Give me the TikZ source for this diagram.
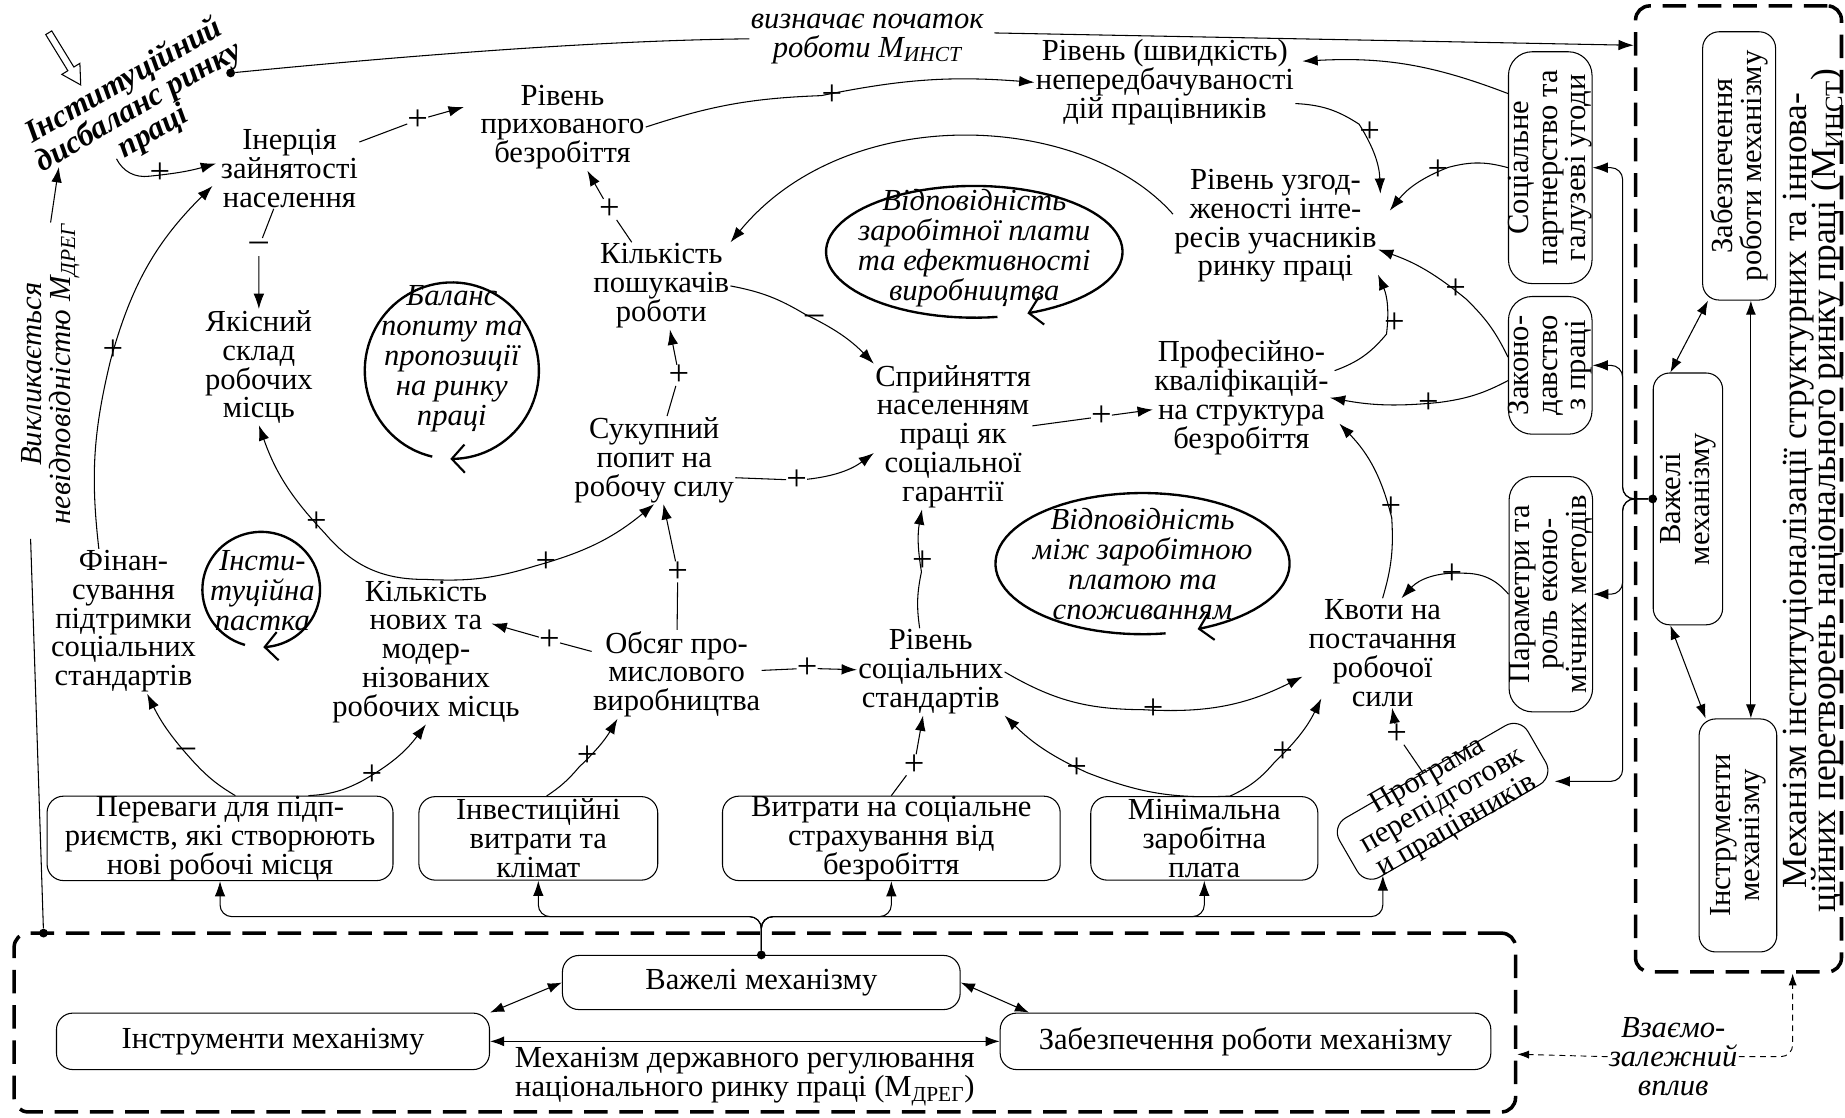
\documentclass[tikz,border=0pt]{standalone}
\usepackage{fontspec}
\setmainfont{Liberation Serif}
\usetikzlibrary{arrows.meta}
\newcommand\bodyfont{\fontsize{26pt}{24.5pt}\selectfont\lineskiplimit=-50pt\relax}
\newcommand\loopfont{\fontsize{26pt}{25.5pt}\selectfont\itshape\lineskiplimit=-50pt\relax}
\newcommand\headfont{\fontsize{27pt}{25pt}\selectfont\bfseries\itshape\lineskiplimit=-50pt\relax}
\newcommand\capfont{\fontsize{30pt}{25pt}\selectfont\lineskiplimit=-50pt\relax}
\newcommand\signfont{\fontsize{31pt}{31pt}\selectfont}
\begin{document}
\begin{tikzpicture}[x=1pt, y=-1pt,
  txt/.style={align=center, inner sep=1pt, font=\bodyfont},
  itxt/.style={align=center, inner sep=1pt, font=\bodyfont\itshape},
  ltxt/.style={align=center, inner sep=1pt, font=\loopfont},
  rbox/.style={draw, rounded corners=14pt, line width=0.9pt, inner sep=0pt},
  sbox/.style={draw, rounded corners=20pt, line width=0.9pt, inner sep=0pt},
  dframe/.style={draw, line width=3pt, dash pattern=on 20pt off 10pt, rounded corners=12pt, inner sep=0pt},
  conn/.style={line width=0.9pt, -{Latex[length=13pt,width=9pt]}},
  link/.style={line width=0.9pt},
  dbl/.style={line width=0.9pt, {Latex[length=12pt,width=8.5pt]}-{Latex[length=12pt,width=8.5pt]}},
  sgn/.style={font=\signfont, inner sep=0pt, minimum size=15pt},
  loopline/.style={line width=2pt, -{Straight Barb[length=11pt,width=24pt,line width=1.8pt]}},
  thindash/.style={line width=0.8pt, dash pattern=on 5pt off 4pt, -{Latex[length=10pt,width=7pt]}},
  bullet/.style={circle, fill, inner sep=0pt, minimum size=7.5pt}]

\fill[white] (0,0) rectangle (1568,950);
\useasboundingbox (0,0) rectangle (1568,950);

% ---------- dashed frames of the two mechanisms ----------
\node[dframe, minimum width=175pt, minimum height=821pt] (iFrame) at (1477.5,415.5) {};
\node[dframe, minimum width=1276pt, minimum height=152pt] (dFrame) at (650,869) {};

% ---------- state regulation mechanism (bottom) ----------
\node[txt, rbox, minimum width=338pt, minimum height=46pt] (dLev) at (647,835) {Важелі механізму};
\node[txt, rbox, minimum width=368pt, minimum height=48pt] (dTool) at (232,885) {Інструменти механізму};
\node[txt, rbox, minimum width=417pt, minimum height=48pt] (dSup) at (1058.5,885) {Забезпечення роботи механізму};
\node[txt] (dCap) at (633,915) {Механізм державного регулювання\\національного ринку праці (М\textsubscript{ДРЕГ})};
\draw[dbl] (dLev.west) -- (dTool.north east);
\draw[dbl] (dLev.east) -- ([shift={(25,0)}]dSup.north west);
\draw[dbl] (dTool.east) -- (dSup.west);

% ---------- institutionalisation mechanism (right) ----------
\node[rbox, minimum width=62pt, minimum height=228pt] (iSup) at (1478,141) {};
\node[txt, rotate=90] (iSupT) at (iSup.center) {Забезпечення\\роботи механізму};
\node[rbox, minimum width=59pt, minimum height=214pt] (iLev) at (1434.5,424) {};
\node[txt, rotate=90] (iLevT) at (iLev.center) {Важелі\\механізму};
\node[rbox, minimum width=66pt, minimum height=198pt] (iTool) at (1477,710) {};
\node[txt, rotate=90] (iToolT) at (iTool.center) {Інструменти\\механізму};
\node[align=center, inner sep=1pt, font=\capfont, rotate=90] (iCap) at (1541,417) {Механізм інституціоналізації структурних та іннова-\\ційних перетворень національного ринку праці (М\textsubscript{ИНСТ})};
\draw[dbl] ([shift={(15,0)}]iLev.north west) -- ([shift={(5,0)}]iSup.south west);
\draw[dbl] ([shift={(15,0)}]iLev.south west) -- ([shift={(6,0)}]iTool.north west);
\draw[dbl] ([shift={(10,0)}]iSup.south) -- ([shift={(11,0)}]iTool.north);

% ---------- levers of the right mechanism ----------
\node[sbox, minimum width=71pt, minimum height=197pt] (rSoc) at (1317.5,142.5) {};
\node[txt, rotate=90] (rSocT) at (rSoc.center) {Соціальне\\партнерство та\\галузеві угоди};
\node[sbox, minimum width=71pt, minimum height=117pt] (rLaw) at (1317.5,310.5) {};
\node[txt, rotate=90] (rLawT) at (rLaw.center) {Законо-\\давство\\з праці};
\node[sbox, minimum width=71pt, minimum height=200pt] (rPar) at (1318,505) {};
\node[txt, rotate=90] (rParT) at (rPar.center) {Параметри та\\роль еконо-\\мічних методів};

% ---------- levers of the bottom mechanism ----------
\node[txt, rbox, minimum width=294pt, minimum height=71pt] (bAdv) at (187,712.5) {Переваги для підп-\\риємств, які створюють\\нові робочі місця};
\node[txt, rbox, minimum width=203pt, minimum height=71pt] (bInv) at (457.5,712.5) {Інвестиційні\\витрати та\\клімат};
\node[txt, rbox, minimum width=287pt, minimum height=71pt] (bIns) at (757.5,712.5) {Витрати на соціальне\\страхування від\\безробіття};
\node[txt, rbox, minimum width=193pt, minimum height=71pt] (bMin) at (1023.5,712.5) {Мінімальна\\заробітна\\плата};
\node[rbox, rotate=30, minimum width=185pt, minimum height=58pt] (bProg) at (1226,681) {};
\node[txt, rotate=30] (bProgT) at (bProg.center) {Програма\\перепідготовк\\и працівників};

% ---------- variables of the causal diagram ----------
\node[txt] (inertia) at (246,143) {Інерція\\зайнятості\\населення};
\node[txt] (hidden) at (478,108) {Рівень\\прихованого\\безробіття};
\node[txt] (unpred) at (990,70) {Рівень (швидкість)\\непередбачуваності\\дій працівників};
\node[txt] (coord) at (1084,192) {Рівень узгод-\\женості інте-\\ресів учасників\\ринку праці};
\node[txt] (seekers) at (562,243) {Кількість\\пошукачів\\роботи};
\node[txt] (quality) at (220,312) {Якісний\\склад\\робочих\\місць};
\node[txt] (demand) at (556,391) {Сукупний\\попит на\\робочу силу};
\node[txt] (volume) at (575,573) {Обсяг про-\\мислового\\виробництва};
\node[txt] (newjobs) at (362,554) {Кількість\\нових та\\модер-\\нізованих\\робочих місць};
\node[txt] (finance) at (105,528) {Фінан-\\сування\\підтримки\\соціальних\\стандартів};
\node[txt] (perception) at (810,371) {Сприйняття\\населенням\\праці як\\соціальної\\гарантії};
\node[txt] (prof) at (1055,338) {Професійно-\\кваліфікацій-\\на структура\\безробіття};
\node[txt] (socstd) at (791,571) {Рівень\\соціальних\\стандартів};
\node[txt] (quotas) at (1175,555) {Квоти на\\постачання\\робочої\\сили};

% ---------- feedback loops ----------
\node[ltxt] (loopAT) at (384,305) {Баланс\\попиту та\\пропозиції\\на ринку\\праці};
\draw[loopline] plot[domain=103:451, samples=90, variable=\t] ({384+74*cos(\t)},{315+75*sin(\t)});
\node[ltxt] (loopBT) at (828,211) {Відповідність\\заробітної плати\\та ефективності\\виробництва};
\draw[loopline] plot[domain=81:429, samples=90, variable=\t] ({828+126*cos(\t)},{214+56*sin(\t)});
\node[ltxt] (loopCT) at (971,479) {Відповідність\\між заробітною\\платою та\\споживанням};
\draw[loopline] plot[domain=81:428, samples=90, variable=\t] ({971+125*cos(\t)},{479+60*sin(\t)});
\node[ltxt] (loopDT) at (223,502) {Інсти-\\туційна\\пастка};
\draw[loopline] plot[domain=106:448, samples=90, variable=\t] ({222+50*cos(\t)},{501+49*sin(\t)});

% ---------- headline and side labels ----------
\node[align=center, inner sep=1pt, font=\headfont, rotate=30] (title) at (118,91) {Інституційний\\дисбаланс ринку\\праці};
\begin{scope}[shift={(55,50)}, rotate=-58.5]
  \draw[line width=0.9pt, fill=white] (-26,-3) -- (10,-3) -- (10,-9) -- (26,0) -- (10,9) -- (10,3) -- (-26,3) -- cycle;
\end{scope}
\node[bullet] (dotTitle) at (196,62) {};
\node[itxt] (lblTop) at (737,33) {визначає початок\\роботи М\textsubscript{ИНСТ}};
\draw[link] (dotTitle) .. controls (400,42) and (540,34) .. (lblTop.west);
\draw[conn] ([shift={(8,-5)}]lblTop.east) -- ([shift={(0,35)}]iFrame.north west);

\node[itxt, rotate=90] (lblCause) at (43,318) {Викликається\\невідповідністю М\textsubscript{ДРЕГ}};
\node[bullet] (dotFrame) at (37,793) {};
\draw[conn] (lblCause.east) -- ([shift={(-68,51)}]title.center);
\draw[link] (dotFrame) -- ([shift={(-17,11)}]lblCause.west);

\node[itxt] (lblMutual) at (1422,898) {Взаємо-\\залежний\\вплив};
\draw[thindash] (lblMutual.west) -- ([shift={(0,27)}]dFrame.east);
\draw[thindash, rounded corners=10pt] (lblMutual.east) -| ([shift={(46,0)}]iFrame.south);

% ---------- polarity signs ----------
\node[sgn] (s1) at (136,147) {+};
\node[sgn] (s2) at (355,102) {+};
\node[sgn] (s3) at (707,81) {+};
\node[sgn] (s4) at (518,178) {+};
\node[sgn] (s5) at (220,210) {–};
\node[sgn] (s7) at (692,272) {–};
\node[sgn] (s8) at (577,319) {+};
\node[sgn] (s9) at (677,408) {+};
\node[sgn] (s10) at (269,444) {+};
\node[sgn] (s11) at (464,478) {+};
\node[sgn] (s12) at (467,544) {+};
\node[sgn] (s13) at (499,643) {+};
\node[sgn] (s14) at (158,640) {–};
\node[sgn] (s15) at (316,659) {+};
\node[sgn] (s16) at (96,298) {+};
\node[sgn] (s17) at (576,486) {+};
\node[sgn] (s18) at (686,568) {+};
\node[sgn] (s19) at (784,477) {+};
\node[sgn] (s20) at (777,650) {+};
\node[sgn] (s21) at (915,653) {+};
\node[sgn] (s22) at (1090,639) {+};
\node[sgn] (s23) at (980,603) {+};
\node[sgn] (s24) at (1187,624) {+};
\node[sgn] (s25) at (1234,488) {+};
\node[sgn] (s26) at (1182,431) {+};
\node[sgn] (s27) at (1214,343) {+};
\node[sgn] (s28) at (936,354) {+};
\node[sgn] (s29) at (1185,275) {+};
\node[sgn] (s30) at (1237,246) {+};
\node[sgn] (s31) at (1222,145) {+};
\node[sgn] (s32) at (1164,112) {+};

% ---------- causal links ----------
\draw[conn] ([shift={(-19,44)}]title.center) to[bend right=35] (s1) to[bend right=5] ([shift={(-3,-4)}]inertia.west);
\draw[conn] (inertia) -- (s2) -- ([shift={(-13,-17)}]hidden.west);
\draw[conn] (hidden.east) to[bend left=8] (s3) to[bend left=8] (unpred.west);
\draw[conn] (seekers) -- (s4) -- (hidden);
\draw[conn] (inertia) -- (s5) -- (quality);
\draw[conn] ([yshift=10pt]coord.west) .. controls (920,95) and (720,85) .. (seekers.north east);
\draw[conn] (seekers.east) to[bend left=10] (s7) to[bend left=10] (perception.north west);
\draw[conn] (demand) -- (s8) -- (seekers);
\draw[conn] ([shift={(0,15)}]demand.east) -- (s9) to[bend right=15] ([shift={(0,14)}]perception.west);
\draw[conn] (newjobs.north) to[bend left=25] (s10) to[bend left=12] (quality.south);
\draw[conn] (newjobs.north) to[bend right=10] (s11) to[bend right=12] (demand.south);
\draw[conn] (volume) -- (s12) -- ([shift={(-25,-24)}]newjobs.east);
\draw[conn] ([shift={(7,0)}]bInv.north) to[bend right=8] (s13) to[bend right=8] ([shift={(22,0)}]volume.south west);
\draw[conn] ([shift={(13,0)}]bAdv.north) to[bend left=8] (s14) to[bend left=8] ([shift={(20,0)}]finance.south);
\draw[conn] ([shift={(75,0)}]bAdv.north) to[bend right=12] (s15) to[bend right=12] (newjobs.south);
\draw[conn] ([shift={(-21,0)}]finance.north) to[bend left=10] (s16) to[bend left=15] ([shift={(-6,15)}]inertia.west);
\draw[conn] (volume) -- (s17) -- (demand);
\draw[conn] (volume) -- (s18) -- (socstd);
\draw[conn] (socstd) to[bend left=10] (s19) to[bend left=10] (perception);
\draw[conn] (bIns.north) -- (s20) -- (socstd);
\draw[conn] ([shift={(22,0)}]bMin.north) to[bend left=12] (s21) to[bend left=10] (socstd.south east);
\draw[conn] ([shift={(22,0)}]bMin.north) to[bend right=12] (s22) to[bend right=10] ([shift={(12,-8)}]quotas.south west);
\draw[conn] (socstd.east) to[bend right=15] (s23) to[bend right=15] ([shift={(-4,20)}]quotas.west);
\draw[conn] (bProg) -- (s24) -- (quotas);
\draw[conn] (rPar.west) to[bend right=25] (s25) to[bend right=25] ([shift={(16,0)}]quotas.north);
\draw[conn] (quotas.north) to[bend right=10] (s26) to[bend right=15] ([shift={(8,22)}]prof.east);
\draw[conn] ([shift={(0,13)}]rLaw.west) to[bend left=10] (s27) to[bend left=8] (prof.east);
\draw[conn] (perception) -- (s28) -- (prof);
\draw[conn] ([shift={(4,-23)}]prof.east) to[bend right=15] (s29) to[bend right=15] ([shift={(0,-8)}]coord.south east);
\draw[conn] ([shift={(0,-7)}]rLaw.west) to[bend right=10] (s30) to[bend right=10] ([shift={(0,20)}]coord.east);
\draw[conn] (rSoc.west) to[bend right=15] (s31) to[bend right=15] ([shift={(10,-13)}]coord.east);
\draw[conn] ([shift={(0,18)}]unpred.east) to[bend left=15] (s32) to[bend left=15] ([shift={(2,22)}]coord.north east);
\draw[conn] ([shift={(0,-63)}]rSoc.west) to[bend right=12] ([shift={(6,-18)}]unpred.east);

% ---------- lever buses ----------
\coordinate (busY) at (0,779);
\node[bullet] (dotLev) at (dLev.north) {};
\foreach \bx in {bAdv,bInv,bIns,bMin}
  \draw[conn, rounded corners=10pt] (dotLev) |- (\bx.south |- busY) -- (\bx.south);
\coordinate (progIn) at ([shift={(15,-9)}]bProg.south west);
\draw[conn, rounded corners=10pt] (dotLev) |- (progIn |- busY) -- (progIn);

\coordinate (rbus) at (1379,0);
\node[bullet] (dotRight) at (iLev.west) {};
\draw[conn, rounded corners=10pt] (dotRight) -| (rbus |- rSoc.east) -- (rSoc.east);
\draw[conn, rounded corners=10pt] (dotRight) -| (rbus |- rLaw.east) -- (rLaw.east);
\draw[conn, rounded corners=10pt] (dotRight) -| (rbus |- rPar.east) -- (rPar.east);
\coordinate (progR) at ([shift={(0,4)}]bProg.south east);
\draw[conn, rounded corners=10pt] (dotRight) -| (rbus |- progR) -- (progR);

\end{tikzpicture}
\end{document}
